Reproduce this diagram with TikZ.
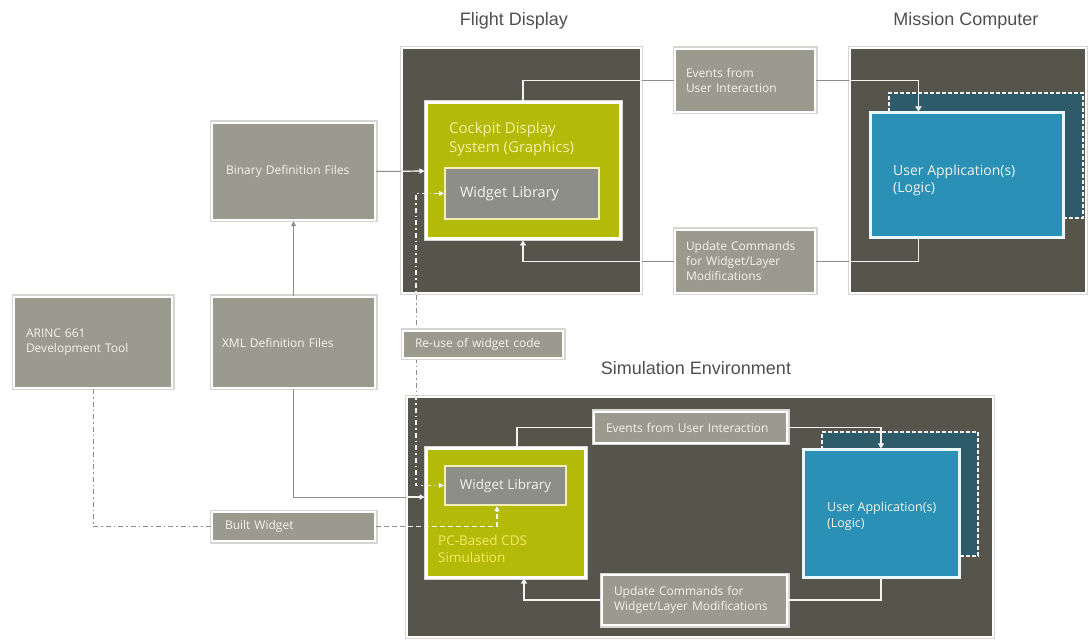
\documentclass[tikz,border=0pt]{standalone}
\usepackage{fontspec}
\setmainfont{Open Sans}
\newfontfamily\titlefont{Liberation Sans}
\usetikzlibrary{arrows.meta}
\definecolor{panelbg}{HTML}{55554C}
\definecolor{framegray}{HTML}{D6D6D2}
\definecolor{boxgray}{HTML}{9B9A8E}
\definecolor{boxtext}{HTML}{F4F4EE}
\definecolor{limefill}{HTML}{B3BB08}
\definecolor{libgray}{HTML}{8E8E88}
\definecolor{libedge}{HTML}{F0F0B4}
\definecolor{appblue}{HTML}{2A90B6}
\definecolor{appshadow}{HTML}{2D5B6A}
\definecolor{appedge}{HTML}{EAF8FC}
\definecolor{cdstext}{HTML}{F2F0A6}
\definecolor{pctext}{HTML}{F4E86A}
\definecolor{titlegray}{HTML}{505050}
\definecolor{linegray}{HTML}{8C8C88}
\definecolor{linewhite}{HTML}{F2F2F0}
\tikzset{
  ttl/.style={font=\titlefont\fontsize{18}{20}\selectfont, text=titlegray},
  panel/.style={fill=panelbg, draw=white, line width=2pt, preaction={draw=framegray, line width=4.5pt}},
  gbox/.style={fill=boxgray, draw=white, line width=2.5pt, preaction={draw=framegray, line width=5pt},
    text=boxtext, font=\fontsize{12}{15}\selectfont, align=left, inner xsep=12pt, inner ysep=0pt},
  cdsbox/.style={fill=limefill, draw=white, line width=3pt, preaction={draw=framegray, line width=5pt}},
  libbox/.style={fill=libgray, draw=libedge, line width=2pt, text=boxtext, inner ysep=0pt},
  appbox/.style={fill=appblue, draw=appedge, line width=3pt},
  appshade/.style={fill=appshadow, draw=linewhite, line width=1.5pt, dash pattern=on 4pt off 2pt},
  apptext/.style={text=boxtext, align=left, anchor=west, inner sep=0pt},
  wline/.style={draw=linewhite, line width=1.8pt},
  gwline/.style={draw=linegray, line width=1.4pt},
  tipbig/.style={-{Triangle[length=5pt,width=6pt]}},
  gconn/.style={draw=linegray, line width=1pt},
  wconn/.style={draw=linewhite, line width=1.2pt},
  tipend/.style={-{Triangle[length=5pt,width=5pt]}},
  tipboth/.style={{Triangle[length=5pt,width=5pt]}-{Triangle[length=5pt,width=5pt]}},
  dashdotline/.style={dash pattern=on 5pt off 3pt on 1.5pt off 3pt},
  dashline/.style={dash pattern=on 5pt off 3pt}
}
\begin{document}
\begin{tikzpicture}[x=1pt,y=-1pt]
\useasboundingbox (0,0) rectangle (1088,644);
\fill[white] (0,0) rectangle (1088,644);

% titles
\node[ttl] (tfd) at (514,21) {Flight Display};
\node[ttl] (tmc) at (966,21) {Mission Computer};
\node[ttl] (tsim) at (696,368) {Simulation Environment};

% panels
\node[panel, minimum width=239pt, minimum height=245pt] (fd) at (521.5,170.5) {};
\node[panel, minimum width=236pt, minimum height=245pt] (mc) at (968,170.5) {};
\node[panel, minimum width=586pt, minimum height=240pt] (sim) at (700,517) {};

% left gray boxes
\node[gbox, inner xsep=14pt, text width=135pt, minimum height=97pt] (bd) at (293.5,171.5) {Binary Definition Files};
\node[gbox, inner xsep=10pt, text width=143pt, minimum height=91pt] (xml) at (293.5,342.5) {XML Definition Files};
\node[gbox, text width=134pt, minimum height=91pt] (ar) at (93,342.5) {ARINC 661\\Development Tool};
\node[gbox, inner xsep=13pt, text width=137pt, minimum height=29pt] (bw) at (293.5,526.5) {Built Widget};

% flight display contents
\node[cdsbox, minimum width=194pt, minimum height=136pt] (cds) at (523,171) {};
\node[font=\fontsize{15}{19}\selectfont, text=cdstext, align=left, anchor=west, inner sep=0pt] (cdst) at (449,139) {Cockpit Display\\System (Graphics)};
\node[libbox, font=\fontsize{14.5}{17}\selectfont, minimum height=51pt, text width=124pt, inner xsep=15pt, align=left] (wl1) at (522,193.5) {Widget Library};

% middle gray boxes (top)
\node[gbox, inner xsep=11pt, text width=118pt, minimum height=63pt] (ev1) at (745,80.5) {Events from\\User Interaction};
\node[gbox, inner xsep=11pt, text width=118pt, minimum height=63pt] (up1) at (745,261.5) {Update Commands\\for Widget/Layer\\Modifications};

% mission computer contents
\node[appshade, minimum width=194pt, minimum height=125pt] (sh1) at (986,155.5) {};
\node[appbox, minimum width=193pt, minimum height=125pt] (ua1) at (966.5,175.5) {};
\node[apptext, font=\fontsize{14}{17}\selectfont] (ua1t) at (893,180) {User Application(s)\\(Logic)};

% simulation contents
\node[cdsbox, minimum width=159pt, minimum height=128pt] (pc) at (505.5,513) {};
\node[libbox, font=\fontsize{13.5}{16}\selectfont, minimum width=121pt, minimum height=39pt] (wl2) at (505.5,485.5) {Widget Library};
\node[font=\fontsize{13.5}{17}\selectfont, text=pctext, align=left, anchor=west, inner sep=0pt] (pct) at (438,549) {PC-Based CDS\\Simulation};
\node[gbox, inner xsep=12pt, text width=169pt, minimum height=31pt] (ev2) at (690.5,427.5) {Events from User Interaction};
\node[gbox, inner xsep=12pt, text width=161pt, minimum height=50pt] (up2) at (694.5,600) {Update Commands for\\Widget/Layer Modifications};
\node[appshade, minimum width=156pt, minimum height=124pt] (sh2) at (900,494) {};
\node[appbox, minimum width=156pt, minimum height=127pt] (ua2) at (881,513.5) {};
\node[apptext, font=\fontsize{12.5}{16}\selectfont] (ua2t) at (827,516) {User Application(s)\\(Logic)};

% gray versions of the connectors (visible in the white gaps)
\draw[gwline] (cds.north) |- (ev1.west);
\draw[gwline, tipbig] (ev1.east) -| ([xshift=50pt]ua1.north west);
\draw[gwline] ([xshift=50pt]ua1.south west) |- (up1.east);
\draw[gwline, tipbig] (up1.west) -| (cds.south);
\draw[gconn, tipend] (bd.east) -- (cds.west);
\draw[gconn, tipend] (xml.north) -- (bd.south);
\draw[gconn, tipend] (xml.south) |- ([yshift=16pt]pc.west);
\draw[gconn, dashdotline] (ar.south) |- (bw.west);
\draw[gconn, dashline, tipend] (bw.east) -| ([xshift=-8.5pt]wl2.south);
\draw[gconn, dashdotline, tipboth] (wl1.west) -- ++(-28,0) |- (wl2.west);

% the same connectors in white where they cross the dark panels
\begin{scope}
  \clip (fd.north west) rectangle (fd.south east) (mc.north west) rectangle (mc.south east)
        (sim.north west) rectangle (sim.south east);
  \draw[wline] (cds.north) |- (ev1.west);
  \draw[wline, tipbig] (ev1.east) -| ([xshift=50pt]ua1.north west);
  \draw[wline] ([xshift=50pt]ua1.south west) |- (up1.east);
  \draw[wline, tipbig] (up1.west) -| (cds.south);
  \draw[wconn, tipend] (bd.east) -- (cds.west);
  \draw[wconn, tipend] (xml.south) |- ([yshift=16pt]pc.west);
  \draw[wconn, dashline, tipend] (bw.east) -| ([xshift=-8.5pt]wl2.south);
  \draw[wconn, dashdotline, tipboth] (wl1.west) -- ++(-28,0) |- (wl2.west);
\end{scope}

% simulation connectors (entirely inside the panel)
\draw[wline] ([xshift=11.5pt]pc.north) |- (ev2.west);
\draw[wline, tipbig] (ev2.east) -| (ua2.north);
\draw[wline] (ua2.south) |- (up2.east);
\draw[wline, tipbig] (up2.west) -| ([xshift=18.5pt]pc.south);

\node[gbox, text width=136pt, minimum height=27pt] (rw) at (483,344.5) {Re-use of widget code};
\end{tikzpicture}
\end{document}
